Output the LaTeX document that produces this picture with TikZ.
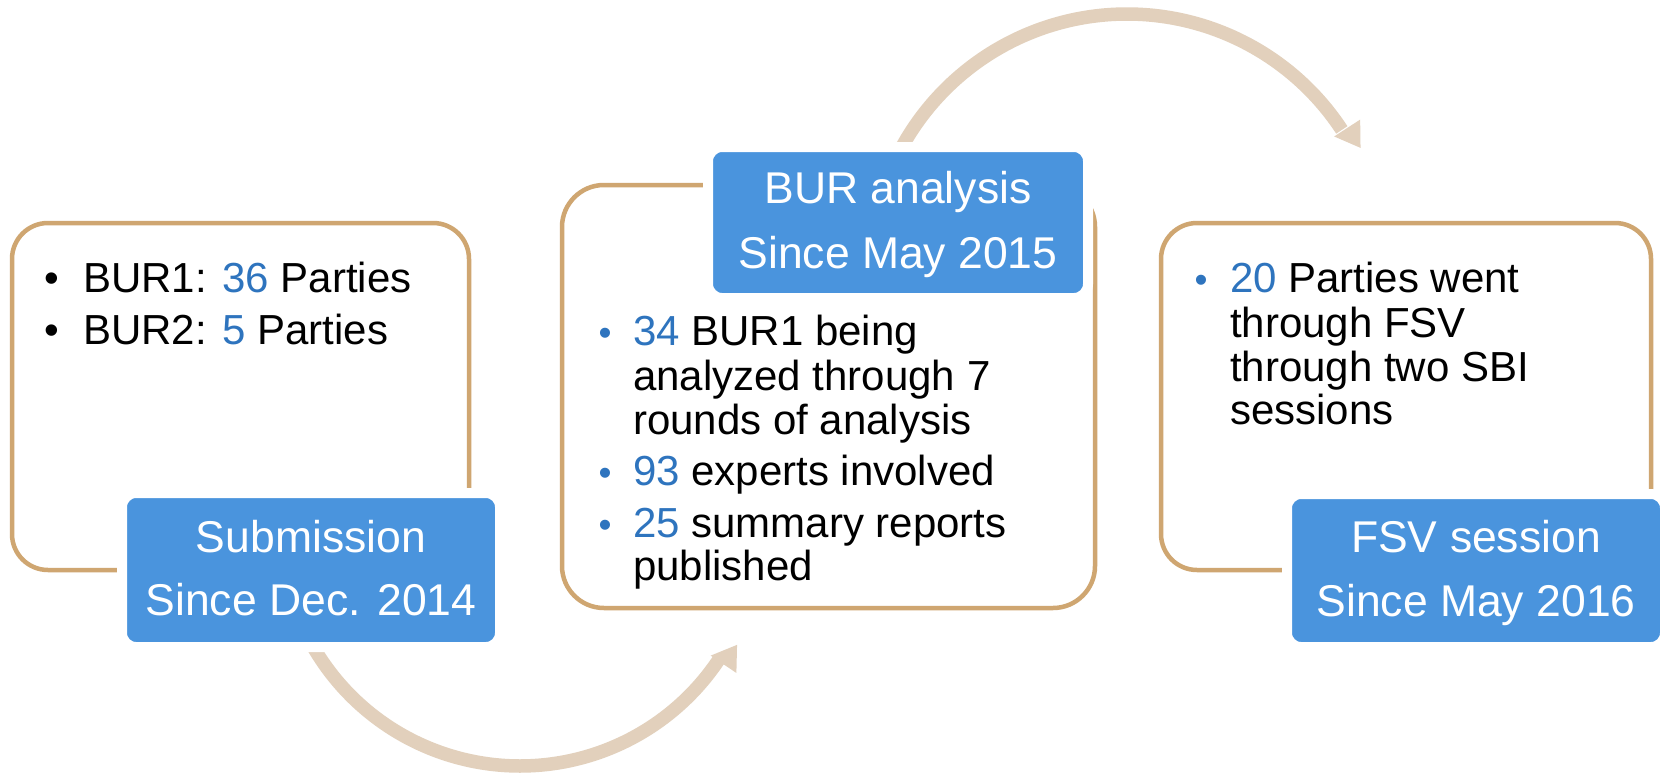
\documentclass[tikz,border=0pt]{standalone}
\usepackage{fontspec}
\setmainfont{Liberation Sans}
\usetikzlibrary{calc}
\definecolor{edgetan}{RGB}{207,166,113}
\definecolor{boxblue}{RGB}{74,148,221}
\definecolor{numblue}{RGB}{46,116,190}
\definecolor{flowtan}{RGB}{226,208,188}
\begin{document}
\begin{tikzpicture}[x=1pt,y=-1pt,
  outbox/.style={draw=edgetan, line width=4.5pt, inner sep=0pt, outer sep=0pt},
  bluebox/.style={draw=white, line width=10pt, fill=boxblue, rounded corners=14pt, inner sep=0pt, outer sep=0pt},
  ttl/.style={font=\fontsize{44.5}{53}\selectfont, text=white, inner sep=0pt, anchor=base},
  txt/.style={font=\fontsize{42}{50}\selectfont, inner sep=0pt, anchor=base west},
  bul/.style={font=\fontsize{42}{50}\selectfont, inner sep=0pt, anchor=base},
  bulb/.style={font=\fontsize{37}{44}\selectfont, text=numblue, inner sep=0pt, anchor=base},
  flow/.style={line width=13.5pt, draw=flowtan},
  head/.style={fill=flowtan}
]
\useasboundingbox (0,0) rectangle (1661,773);
\fill[white] (0,0) rectangle (1661,773);

% circular flow arrows
\coordinate (lowc) at (520,527);
\coordinate (upc) at (1127,271);
\draw[flow] plot[domain=156:33.7, samples=90, smooth] ({520+239*cos(\x)},{527+239*sin(\x)});
\fill[head] ($(lowc)+(34:230)$) -- ($(lowc)+(34:261)$) -- ($(lowc)+(28.5:247)$) -- cycle;
\draw[flow] plot[domain=-155:-33.3, samples=90, smooth] ({1127+257*cos(\x)},{271+257*sin(\x)});
\fill[head] ($(upc)+(-33:247)$) -- ($(upc)+(-33:278)$) -- ($(upc)+(-27.8:264)$) -- cycle;

% outline boxes
\node[outbox, rounded corners=36pt, minimum width=457pt, minimum height=347pt] (b1) at (240.5,396.5) {};
\node[outbox, rounded corners=42pt, minimum width=533pt, minimum height=423pt] (b2) at (828.5,396.5) {};
\node[outbox, rounded corners=36pt, minimum width=490pt, minimum height=347pt] (b3) at (1406,396.5) {};

% blue title boxes
\node[bluebox, minimum width=378pt, minimum height=154pt] (t1) at (311,570) {};
\node[bluebox, minimum width=380pt, minimum height=151pt] (t2) at (898,222.5) {};
\node[bluebox, minimum width=378pt, minimum height=153pt] (t3) at (1476,570.5) {};

\node[ttl] (t1a) at (311,552) {Submission};
\node[ttl] (t1b) at (311,615) {Since Dec. 2014};
\node[ttl] (t2a) at (898,203) {BUR analysis};
\node[ttl] (t2b) at (898,268) {Since May 2015};
\node[ttl] (t3a) at (1476,552) {FSV session};
\node[ttl] (t3b) at (1476,616) {Since May 2016};

% box 1 text
\node[bul] (p1) at (52,292) {•};
\node[txt] (l1) at (83,292) {BUR1: \textcolor{numblue}{36} Parties};
\node[bul] (p2) at (52,344) {•};
\node[txt] (l2) at (83,344) {BUR2: \textcolor{numblue}{5} Parties};

% box 2 text
\node[bulb] (q1) at (605,345) {•};
\node[txt] (m1) at (633,345) {\textcolor{numblue}{34} BUR1 being};
\node[txt] (m2) at (633,390) {analyzed through 7};
\node[txt] (m3) at (633,434) {rounds of analysis};
\node[bulb] (q2) at (605,485) {•};
\node[txt] (m4) at (633,485) {\textcolor{numblue}{93} experts involved};
\node[bulb] (q3) at (605,537) {•};
\node[txt] (m5) at (633,537) {\textcolor{numblue}{25} summary reports};
\node[txt] (m6) at (633,580) {published};

% box 3 text
\node[bulb] (r1) at (1201,292) {•};
\node[txt] (n1) at (1230,292) {\textcolor{numblue}{20} Parties went};
\node[txt] (n2) at (1230,337) {through FSV};
\node[txt] (n3) at (1230,381) {through two SBI};
\node[txt] (n4) at (1230,424) {sessions};
\end{tikzpicture}
\end{document}
